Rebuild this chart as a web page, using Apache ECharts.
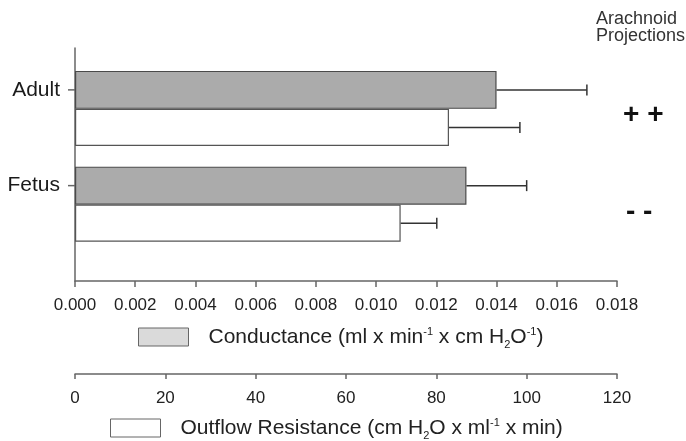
<!DOCTYPE html>
<html>
<head>
<meta charset="utf-8">
<script src="https://cdn.jsdelivr.net/npm/echarts@6/dist/echarts.min.js"></script>
<style>
  html, body { margin: 0; padding: 0; background: #fff; }
  #chart { width: 686px; height: 441px; }
</style>
</head>
<body>
<div id="chart"></div>
<script>
// data
var groups = ['Adult', 'Fetus'];
var projections = ['+ +', '- -'];
var conductance = [0.0140, 0.0130];      // ml x min-1 x cmH2O-1
var conductanceErr = [0.0030, 0.0020];
var resistance = [82.8, 72.1];           // cmH2O x ml-1 x min
var resistanceErr = [15.7, 8.0];
var condTicks = { min: 0, max: 0.018, interval: 0.002 };
var resTicks = { min: 0, max: 120, interval: 20 };

var FONT = 'Liberation Sans, Arial, Helvetica, sans-serif';
var AXIS = '#666';

function errData(vals, errs) {
  return vals.map(function (v, i) { return [i, v, v + errs[i]]; });
}

// horizontal error bar with a cap, shifted onto its bar inside the band
function errRender(shift) {
  return function (params, api) {
    var lo = api.coord([api.value(1), api.value(0)]);
    var hi = api.coord([api.value(2), api.value(0)]);
    var y = lo[1] + shift;
    var st = { stroke: '#333', lineWidth: 1.5 };
    return {
      type: 'group',
      children: [
        { type: 'line', shape: { x1: lo[0], y1: y, x2: hi[0], y2: y }, style: st },
        { type: 'line', shape: { x1: hi[0], y1: y - 5.5, x2: hi[0], y2: y + 5.5 }, style: st }
      ]
    };
  };
}

var legendRich = {
  g: { width: 15 },
  t: { fontFamily: FONT, fontSize: 21, lineHeight: 26, color: '#222' },
  s: { fontFamily: FONT, fontSize: 11, lineHeight: 11, padding: [2, 0, 0, 0], verticalAlign: 'top', color: '#222' },
  b: { fontFamily: FONT, fontSize: 11, lineHeight: 11, verticalAlign: 'bottom', color: '#222' }
};

var chart = echarts.init(document.getElementById('chart'), null, { renderer: 'canvas' });

var option = {
  backgroundColor: '#ffffff',
  animation: false,
  title: {
    text: 'Arachnoid\nProjections',
    left: 596, top: 11, padding: 0,
    textStyle: { fontFamily: FONT, fontSize: 18, fontWeight: 'normal', lineHeight: 17, color: '#333' }
  },
  legend: [{
    data: ['Conductance'],
    left: 138, top: 324, padding: 0,
    icon: 'rect', itemWidth: 50, itemHeight: 18,
    itemStyle: { color: '#dadada', borderColor: AXIS, borderWidth: 1 },
    formatter: function () {
      return '{g|}{t|Conductance (ml x min}{s|-1}{t| x cm H}{b|2}{t|O}{s|-1}{t|)}';
    },
    textStyle: { rich: legendRich },
    selectedMode: false
  }, {
    data: ['Outflow Resistance'],
    left: 110, top: 415, padding: 0,
    icon: 'rect', itemWidth: 50, itemHeight: 18,
    itemStyle: { color: '#ffffff', borderColor: AXIS, borderWidth: 1 },
    formatter: function () {
      return '{g|}{t|Outflow Resistance (cm H}{b|2}{t|O x ml}{s|-1}{t| x min)}';
    },
    textStyle: { rich: legendRich },
    selectedMode: false
  }],
  grid: [
    { left: 75, right: 69, top: 60.5, height: 191.5, outerBoundsMode: 'none' },
    { left: 75, right: 69, top: 48, height: 233, outerBoundsMode: 'none' }
  ],
  xAxis: [{
    type: 'value', gridIndex: 0, position: 'bottom', offset: 29,
    min: condTicks.min, max: condTicks.max, interval: condTicks.interval,
    axisLine: { show: true, lineStyle: { color: AXIS, width: 1.5 } },
    axisTick: { show: true, length: 6, lineStyle: { color: AXIS, width: 1.5 } },
    axisLabel: { margin: 16, fontFamily: FONT, fontSize: 17, color: '#222',
      formatter: function (v) { return v.toFixed(3); } },
    splitLine: { show: false }
  }, {
    type: 'value', gridIndex: 0, position: 'bottom', offset: 122,
    min: resTicks.min, max: resTicks.max, interval: resTicks.interval,
    axisLine: { show: true, lineStyle: { color: AXIS, width: 1.5 } },
    axisTick: { show: true, length: 5, lineStyle: { color: AXIS, width: 1.5 } },
    axisLabel: { margin: 16, fontFamily: FONT, fontSize: 17, color: '#222' },
    splitLine: { show: false }
  }, {
    type: 'value', gridIndex: 1, show: false, min: 0, max: 1
  }],
  yAxis: [{
    type: 'category', gridIndex: 0, data: groups, inverse: true,
    axisLine: { show: false }, axisTick: { show: false }, splitLine: { show: false },
    axisLabel: {
      margin: 0, padding: [0, 0, 37, 0],
      formatter: function (v) { return '{n|' + v + '}{k|}'; },
      rich: {
        n: { fontFamily: FONT, fontSize: 21, color: '#1a1a1a', padding: [0, 8, 0, 0] },
        k: { width: 7, height: 1.5, backgroundColor: AXIS }
      }
    }
  }, {
    type: 'category', gridIndex: 0, data: projections, inverse: true, position: 'right',
    axisLine: { show: false }, axisTick: { show: false }, splitLine: { show: false },
    axisLabel: {
      margin: 6,
      formatter: function (v, i) { return (i === 0 ? '{p|' : '{m|') + v + '}'; },
      rich: {
        p: { fontFamily: FONT, fontSize: 28, fontWeight: 'bold', color: '#111', padding: [14, 0, 0, 0] },
        m: { fontFamily: FONT, fontSize: 28, fontWeight: 'bold', color: '#111', padding: [17, 0, 0, 3] }
      }
    }
  }, {
    type: 'value', gridIndex: 1, min: 0, max: 1,
    axisLine: { show: true, lineStyle: { color: AXIS, width: 1.5 } },
    axisTick: { show: false }, axisLabel: { show: false }, splitLine: { show: false }
  }],
  series: [{
    name: 'Conductance', type: 'bar', xAxisIndex: 0, yAxisIndex: 0,
    data: conductance, barWidth: 38, barGap: '0%',
    itemStyle: { color: '#ababab', borderColor: '#4a4a4a', borderWidth: 1.2 }
  }, {
    name: 'Outflow Resistance', type: 'bar', xAxisIndex: 1, yAxisIndex: 0,
    data: resistance, barWidth: 37, barGap: '0%',
    itemStyle: { color: '#ffffff', borderColor: '#555', borderWidth: 1.2 }
  }, {
    name: 'condErr', type: 'custom', xAxisIndex: 0, yAxisIndex: 0,
    renderItem: errRender(-18.5), encode: { x: [1, 2], y: 0 },
    data: errData(conductance, conductanceErr), z: 3
  }, {
    name: 'resErr', type: 'custom', xAxisIndex: 1, yAxisIndex: 0,
    renderItem: errRender(19), encode: { x: [1, 2], y: 0 },
    data: errData(resistance, resistanceErr), z: 3
  }]
};
chart.setOption(option);
</script>
</body>
</html>
